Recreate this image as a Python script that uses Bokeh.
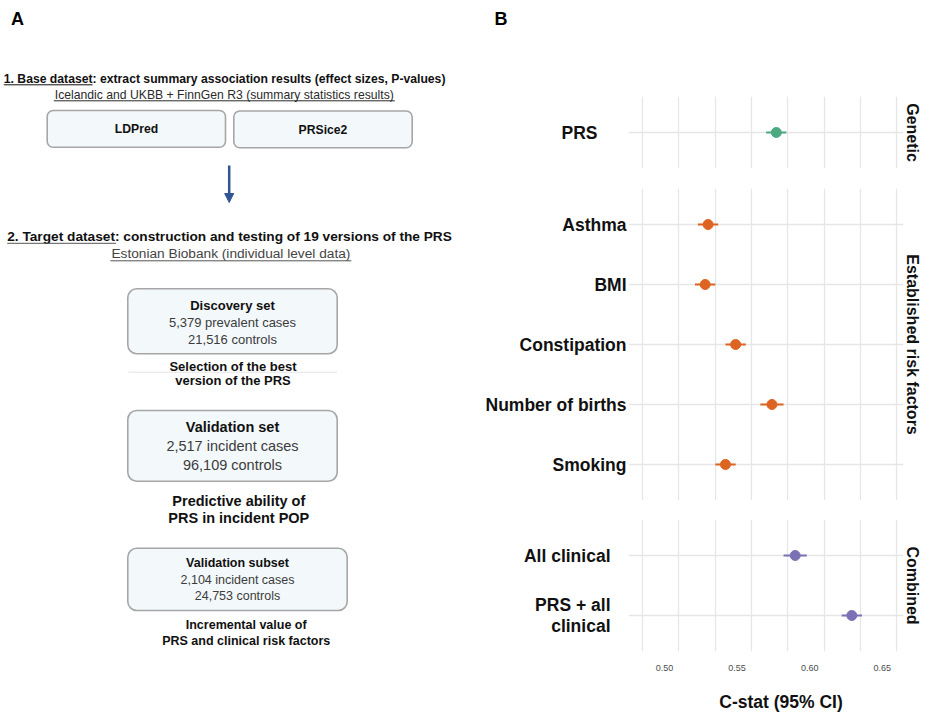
from bokeh.plotting import figure
from bokeh.layouts import row, column
from bokeh.models import (ColumnDataSource, FactorRange, Range1d, FixedTicker, Grid,
                          Arrow, NormalHead, Spacer, PrintfTickFormatter)
from bokeh.core.properties import value
from bokeh.embed import file_html
from bokeh.resources import INLINE

# ------------------------------------------------------------------ data (panel B)
genetic_labels = ["PRS"]
genetic_cstat = [0.577]
genetic_lower = [0.570]
genetic_upper = [0.584]

risk_labels = ["Asthma", "BMI", "Constipation", "Number of births", "Smoking"]
risk_cstat = [0.530, 0.528, 0.549, 0.574, 0.542]
risk_lower = [0.523, 0.521, 0.542, 0.566, 0.535]
risk_upper = [0.537, 0.535, 0.556, 0.582, 0.549]

combined_labels = ["All clinical", "PRS + all\nclinical"]
combined_cstat = [0.590, 0.629]
combined_lower = [0.582, 0.622]
combined_upper = [0.598, 0.636]

strip_labels = ["Genetic", "Established risk factors", "Combined"]
x_tick_values = [0.50, 0.55, 0.60, 0.65]
grid_values = [0.475, 0.50, 0.525, 0.55, 0.575, 0.60, 0.625, 0.65]
x_title = "C-stat (95% CI)"
panel_letters = ["A", "B"]

# ------------------------------------------------------------------ content (panel A)
base_title = "1. Base dataset: extract summary association results (effect sizes, P-values)"
base_source = "Icelandic and UKBB + FinnGen R3 (summary statistics results)"
methods = ["LDPred", "PRSice2"]
target_title = "2. Target dataset: construction and testing of 19 versions of the PRS"
target_source = "Estonian Biobank (individual level data)"
set_names = ["Discovery set", "Validation set", "Validation subset"]
set_cases = ["5,379 prevalent cases", "2,517 incident cases", "2,104 incident cases"]
set_controls = ["21,516 controls", "96,109 controls", "24,753 controls"]
set_purpose_1 = ["Selection of the best", "Predictive ability of", "Incremental value of"]
set_purpose_2 = ["version of the PRS", "PRS in incident POP", "PRS and clinical risk factors"]

# ------------------------------------------------------------------ styles / layout
FONT = value("Liberation Sans")
GREEN, ORANGE, PURPLE = "#4BAA82", "#DD6422", "#7B71B5"
GRID_COL = "#E6E6E6"
BOX_FILL, BOX_LINE = "#F3F8FB", "#A6A6A6"
ARROW_COL = "#2F5597"

H = 713
A_W = 473
FRAME_L, FRAME_R = 628, 903
BORDER_L = FRAME_L - A_W
BORDER_R = 22
FRAME_W = FRAME_R - FRAME_L
PX_PER_UNIT = 1452.0
X_AT_050 = 664.0
ROW_PX = 60.0

# ------------------------------------------------------------------ panel A
pa = figure(width=A_W, height=H, x_range=Range1d(0, A_W), y_range=Range1d(H, 0),
            output_backend="svg", toolbar_location=None, x_axis_location=None, y_axis_location=None,
            min_border=0)
pa.grid.visible = False
pa.outline_line_color = None


def put_text(fig, xs, ys, texts, size, bold=False, color="#111111", align="center"):
    src = ColumnDataSource(dict(x=xs, y=ys, t=texts))
    fig.text(x="x", y="y", text="t", source=src, text_font=FONT, text_font_size=size,
             text_font_style="bold" if bold else "normal", text_color=color,
             text_align=align, text_baseline="middle")


put_text(pa, [17], [18], [panel_letters[0]], "18px", bold=True, color="#000000")

put_text(pa, [3.3], [78.3], [base_title], "12.2px", bold=True, align="left")
pa.segment(x0=[3.3], y0=[84.3], x1=[3.3 + 88.8], y1=[84.3], line_color="#111111", line_width=1)
put_text(pa, [223.8], [94.3], [base_source], "12.2px", color="#2a2a2a")
pa.segment(x0=[223.8 - 170.5], y0=[100.3], x1=[223.8 + 170.5], y1=[100.3], line_color="#2a2a2a", line_width=1)

pa.quad(left=[46.7, 233.3], right=[225.0, 411.7], top=[110.0, 110.5], bottom=[146.7, 147.2],
        fill_color=BOX_FILL, line_color=BOX_LINE, line_width=1.6, border_radius=6)
put_text(pa, [136.0, 322.5], [128.5, 129.0], methods, "12.2px", bold=True)

pa.add_layout(Arrow(x_start=228.7, y_start=165, x_end=228.7, y_end=202, line_color=ARROW_COL,
                    line_width=2.5, end=NormalHead(size=9, fill_color=ARROW_COL, line_color=ARROW_COL)))

put_text(pa, [6.7], [236.0], [target_title], "13.7px", bold=True, align="left")
pa.segment(x0=[6.7], y0=[242.8], x1=[6.7 + 108.9], y1=[242.8], line_color="#555555", line_width=1)
put_text(pa, [230.4], [253.3], [target_source], "13.7px", color="#444444")
pa.segment(x0=[230.4 - 120.5], y0=[260.3], x1=[230.4 + 120.5], y1=[260.3], line_color="#555555", line_width=1)

box_left = [127.3, 127.3, 127.3]
box_right = [336.7, 336.7, 346.7]
box_top = [288.3, 410.0, 547.7]
box_bottom = [353.3, 480.7, 610.0]
pa.quad(left=box_left, right=box_right, top=box_top, bottom=box_bottom,
        fill_color=BOX_FILL, line_color=BOX_LINE, line_width=1.6, border_radius=9)
box_cx = [232.0, 232.0, 237.0]
name_y = [305.0, 426.7, 562.7]
cases_y = [321.7, 445.7, 579.3]
ctrl_y = [339.3, 464.3, 595.3]
sizes = ["13px", "14.5px", "12.5px"]
purp_cx = [232.5, 238.3, 245.7]
purp1_y = [366.0, 500.0, 624.0]
purp2_y = [380.0, 517.7, 640.7]
pa.segment(x0=[128.0], y0=[371.7], x1=[336.7], y1=[371.7], line_color="#E4E4E4", line_width=1)
for i in range(3):
    put_text(pa, [box_cx[i]], [name_y[i]], [set_names[i]], sizes[i], bold=True)
    put_text(pa, [box_cx[i], box_cx[i]], [cases_y[i], ctrl_y[i]], [set_cases[i], set_controls[i]],
             sizes[i], color="#3c3c3c")
    put_text(pa, [purp_cx[i], purp_cx[i]], [purp1_y[i], purp2_y[i]], [set_purpose_1[i], set_purpose_2[i]],
             sizes[i], bold=True)

# ------------------------------------------------------------------ panel B
def blank_fig(frame_h, x_range, y_range, with_y_axis=False):
    f = figure(frame_width=FRAME_W, frame_height=frame_h, x_range=x_range, y_range=y_range,
               output_backend="svg", toolbar_location=None, x_axis_location=None,
               y_axis_location="left" if with_y_axis else None,
               min_border_left=BORDER_L, min_border_right=BORDER_R, min_border_top=0, min_border_bottom=0)
    f.grid.visible = False
    f.outline_line_color = None
    return f


# header: panel letter "B" as the label of a one-factor axis
header = blank_fig(36, Range1d(0, 1), FactorRange(factors=[panel_letters[1]]), with_y_axis=True)
hy = header.yaxis[0]
hy.axis_line_color = None
hy.major_tick_line_color = None
hy.major_tick_out = 0
hy.major_label_standoff = FRAME_L - 507
hy.major_label_text_font = "Liberation Sans"
hy.major_label_text_font_style = "bold"
hy.major_label_text_font_size = "18px"
hy.major_label_text_color = "#000000"

x_start = 0.50 - (X_AT_050 - FRAME_L) / PX_PER_UNIT
x_end = x_start + FRAME_W / PX_PER_UNIT
grid_shift = (678.3 - X_AT_050) / PX_PER_UNIT
xr = Range1d(x_start, x_end)
grid_range = Range1d(x_start - grid_shift, x_end - grid_shift)


def forest(labels, est, lo, hi, color, strip, label_standoff, bottom=False):
    n = len(labels)
    frame_h = int(round((n + 0.2) * ROW_PX))
    yr = FactorRange(factors=list(reversed(labels)), range_padding=0.2 / n,
                     range_padding_units="percent")
    p = figure(frame_width=FRAME_W, frame_height=frame_h, x_range=xr, y_range=yr,
               output_backend="svg", toolbar_location=None,
               x_axis_location="below" if bottom else None, y_axis_location="left",
               min_border_left=BORDER_L, min_border_right=BORDER_R, min_border_top=0,
               min_border_bottom=26 if bottom else 0, title=strip, title_location="right")
    p.extra_x_ranges = {"g": grid_range}
    p.outline_line_color = None
    p.xgrid.visible = False
    p.ygrid.grid_line_color = GRID_COL
    p.ygrid.grid_line_width = 1.3
    p.add_layout(Grid(dimension=0, ticker=FixedTicker(ticks=grid_values), x_range_name="g",
                      grid_line_color=GRID_COL, grid_line_width=1.3))
    p.title.align = "center"
    p.title.text_font = "Liberation Sans"
    p.title.text_font_size = "16px"
    p.title.text_font_style = "bold"
    p.title.text_color = "#111111"
    p.title.standoff = 0

    ya = p.yaxis[0]
    ya.axis_line_color = None
    ya.major_tick_line_color = None
    ya.major_tick_out = 0
    ya.major_label_standoff = label_standoff
    ya.major_label_text_font = "Liberation Sans"
    ya.major_label_text_font_style = "bold"
    ya.major_label_text_font_size = "17.5px"
    ya.major_label_text_color = "#111111"
    ya.major_label_text_line_height = 1.05

    src = ColumnDataSource(dict(label=labels, est=est, lo=lo, hi=hi))
    p.segment(x0="lo", y0="label", x1="hi", y1="label", source=src, line_color=color, line_width=2.2)
    p.scatter(x="est", y="label", source=src, size=10, fill_color=color, line_color=color)

    if bottom:
        xa = p.xaxis[0]
        xa.ticker = FixedTicker(ticks=x_tick_values)
        xa.formatter = PrintfTickFormatter(format="%.2f")
        xa.axis_line_color = None
        xa.major_tick_line_color = None
        xa.minor_tick_line_color = None
        xa.major_tick_out = 0
        xa.major_label_standoff = 13
        xa.major_label_text_font = "Liberation Sans"
        xa.major_label_text_font_size = "9px"
        xa.major_label_text_color = "#4D4D4D"
    return p


f_gen = forest(genetic_labels, genetic_cstat, genetic_lower, genetic_upper, GREEN, strip_labels[0], 31)
f_risk = forest(risk_labels, risk_cstat, risk_lower, risk_upper, ORANGE, strip_labels[1], 2)
f_comb = forest(combined_labels, combined_cstat, combined_lower, combined_upper, PURPLE,
                strip_labels[2], 18, bottom=True)

# footer: x-axis title, in page coordinates of its frame
footer_top = 519 + int(round(2.2 * ROW_PX)) + 26
footer = blank_fig(H - footer_top, Range1d(FRAME_L, FRAME_R), Range1d(H, footer_top))
put_text(footer, [780.5], [701.0], [x_title], "17.5px", bold=True)

right = column(header, Spacer(width=BORDER_L + FRAME_W + BORDER_R, height=60), f_gen,
               Spacer(width=BORDER_L + FRAME_W + BORDER_R, height=20), f_risk,
               Spacer(width=BORDER_L + FRAME_W + BORDER_R, height=19), f_comb, footer)
layout = row(pa, right)

open("out.html", "w").write(file_html(layout, INLINE))
